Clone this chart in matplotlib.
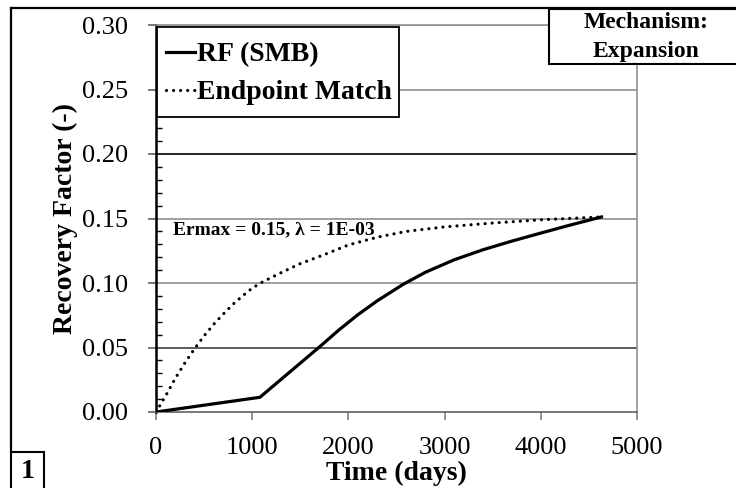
import matplotlib
matplotlib.use("Agg")
import matplotlib.pyplot as plt
from matplotlib.lines import Line2D
from matplotlib.patches import Rectangle

plt.rcParams["font.family"] = ["Liberation Serif", "DejaVu Serif"]

# RF (SMB) curve
time_rf = [0, 1080, 1700, 1900, 2100, 2300, 2570, 2800, 3100, 3400, 3700, 4000, 4300, 4630]
rf_smb = [0.0, 0.0114, 0.0505, 0.0635, 0.0755, 0.0862, 0.0990, 0.1083, 0.1180, 0.1258,
          0.1325, 0.1387, 0.1448, 0.1512]

# endpoint match curve
time_em = [0, 100, 200, 300, 400, 500, 600, 700, 800, 900, 1000, 1100, 1300, 1500,
           1750, 2000, 2300, 2600, 3000, 3500, 4000, 4630]
rf_em = [0.0, 0.0125, 0.0260, 0.0380, 0.0490, 0.0590, 0.0680, 0.0760, 0.0835, 0.0900,
         0.0960, 0.1005, 0.1080, 0.1150, 0.1220, 0.1295, 0.1355, 0.1400, 0.1435,
         0.1465, 0.1490, 0.1512]

x_ticks = [0, 1000, 2000, 3000, 4000, 5000]
y_ticks = [0.00, 0.05, 0.10, 0.15, 0.20, 0.25, 0.30]
grid_colors = ["#404040", "#909090", "#909090", "black", "#909090", "#909090"]

W, H = 736, 488
fig = plt.figure(figsize=(W / 100, H / 100), dpi=100)
ax = fig.add_axes([156 / W, 1 - 412 / H, 481 / W, 387 / H])
ax.set_xlim(0, 5000)
ax.set_ylim(0, 0.30)

# horizontal gridlines
for yv, c in zip(y_ticks[1:], grid_colors):
    ax.axhline(yv, color=c, lw=1.2, zorder=1)

ax.plot(time_rf, rf_smb, color="black", lw=2.3, label="RF (SMB)", zorder=3)
ax.plot(time_em, rf_em, color="black", lw=2.3, linestyle=(0, (0.01, 2.2)),
        dash_capstyle="round", label="Endpoint Match", zorder=3)

ax.set_xticks(x_ticks)
ax.set_xticklabels([str(v) for v in x_ticks])
ax.set_yticks(y_ticks)
ax.set_yticklabels([f"{v:.2f}" for v in y_ticks])
ax.set_yticks([i / 100 for i in range(31)], minor=True)
ax.tick_params(axis="y", which="major", direction="out", length=6, width=1.2,
               pad=14, labelsize=19, color="#606060")
ax.tick_params(axis="y", which="minor", direction="in", length=4.5, width=1.0)
ax.tick_params(axis="x", which="major", direction="out", length=6, width=1.2,
               pad=12, labelsize=19, color="#808080")

ax.spines["left"].set_color("black")
ax.spines["left"].set_linewidth(1.8)
ax.spines["bottom"].set_color("#606060")
ax.spines["bottom"].set_linewidth(1.2)
ax.spines["right"].set_color("#909090")
ax.spines["right"].set_linewidth(1.2)
ax.spines["top"].set_color("#909090")
ax.spines["top"].set_linewidth(1.2)

ax.set_xlabel("Time (days)", fontsize=20, fontweight="bold")
ax.xaxis.set_label_coords(0.5, (412 - 473) / 387)
ax.xaxis.label.set_va("center")
ax.set_ylabel("Recovery Factor (-)", fontsize=20, fontweight="bold")
ax.yaxis.set_label_coords((65 - 156) / 481, 0.5)
ax.yaxis.label.set_va("center")

# legend box drawn separately so its size matches the original
ax.add_artist(Rectangle((157 / W, 1 - 117 / H), 242 / W, 90 / H, transform=fig.transFigure,
                        facecolor="white", edgecolor="black", lw=1.3, zorder=4))
leg = ax.legend(loc="upper left", bbox_to_anchor=(166 / W, 1 - 42 / H),
                bbox_transform=fig.transFigure, borderaxespad=0, borderpad=0,
                prop={"weight": "bold", "size": 20}, handlelength=1.05,
                handletextpad=0.05, labelspacing=0.45, frameon=False)
leg.set_zorder(5)

ax.text((173 - 156) / 481, (412 - 230) / 387, "Ermax = 0.15, λ = 1E-03",
        transform=ax.transAxes, fontsize=14, fontweight="bold", va="center", ha="left")

# outer frame (left and top edges)
fig.add_artist(Line2D([11 / W, 11 / W], [1 - 8 / H, 1 - 452 / H], color="black", lw=1.6))
fig.add_artist(Line2D([11 / W, 1.0], [1 - 8 / H, 1 - 8 / H], color="black", lw=1.6))

# mechanism box
fig.add_artist(Rectangle((549 / W, 1 - 64 / H), 200 / W, 55 / H, transform=fig.transFigure,
                         facecolor="white", edgecolor="black", lw=1.5, zorder=6))
fig.text(646 / W, 1 - 23 / H, "Mechanism:", fontsize=17, fontweight="bold",
         ha="center", va="center", zorder=7)
fig.text(646 / W, 1 - 52 / H, "Expansion", fontsize=17, fontweight="bold",
         ha="center", va="center", zorder=7)

# panel number box
fig.add_artist(Rectangle((11 / W, 1 - 492 / H), 33 / W, 40 / H, transform=fig.transFigure,
                         facecolor="white", edgecolor="black", lw=1.5, zorder=6))
fig.text(27.5 / W, 1 - 472 / H, "1", fontsize=20, fontweight="bold",
         ha="center", va="center", zorder=7)

fig.savefig("out.png", dpi=100)
